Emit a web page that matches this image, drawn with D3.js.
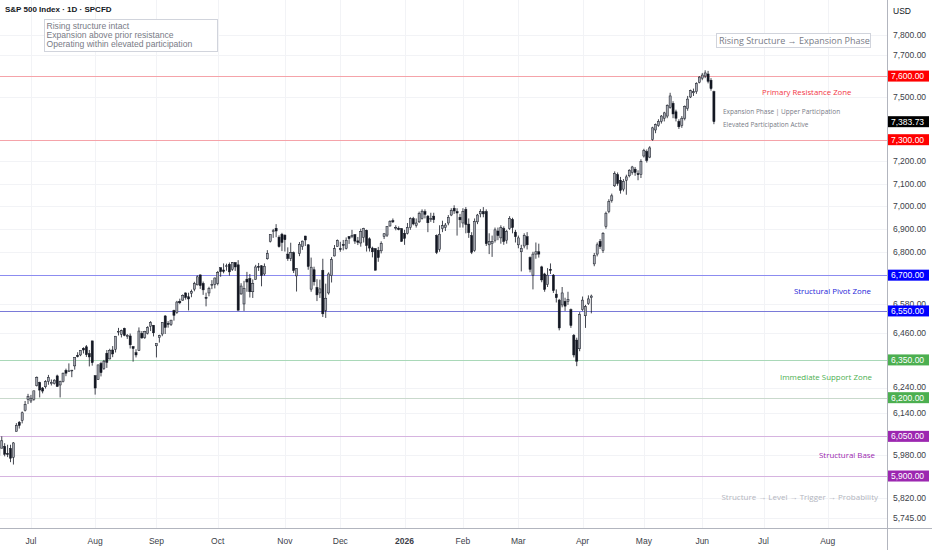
<!DOCTYPE html>
<html>
<head>
<meta charset="utf-8">
<script src="https://cdn.jsdelivr.net/npm/d3@7"></script>
<style>
  html, body { margin: 0; padding: 0; background: #fff; }
  svg { display: block; font-family: "Liberation Sans", Arial, sans-serif; }
</style>
</head>
<body>
<div id="chart"></div>
<script>
const width = 932, height = 550;
const plotRight = 887, plotBottom = 528;

// exchange holidays between the first bar and the end of the time axis
const holidays = ["2025-06-19", "2025-07-04", "2025-09-01", "2025-11-27", "2025-12-25",
  "2026-01-01", "2026-01-19", "2026-02-16", "2026-04-03", "2026-05-25", "2026-06-19", "2026-07-03"];

// date, open, high, low, close
const candles = [
  ["2025-06-13",6000,6026,5963,5977],["2025-06-16",6005,6050,6004,6033],["2025-06-17",6012,6024,5974,5982],
  ["2025-06-18",5985,6018,5971,5981],["2025-06-20",6004,6018,5952,5967],["2025-06-23",5970,6028,5943,6025],
  ["2025-06-24",6069,6101,6069,6092],["2025-06-25",6104,6109,6080,6092],["2025-06-26",6112,6146,6100,6141],
  ["2025-06-27",6151,6187,6146,6173],["2025-06-30",6193,6215,6175,6205],
  ["2025-07-01",6187,6211,6179,6198],["2025-07-02",6194,6227,6188,6227],["2025-07-03",6247,6284,6244,6279],
  ["2025-07-07",6260,6263,6201,6230],["2025-07-08",6238,6242,6217,6226],["2025-07-09",6243,6269,6236,6263],
  ["2025-07-10",6264,6290,6251,6280],["2025-07-11",6255,6272,6248,6260],["2025-07-14",6255,6273,6252,6269],
  ["2025-07-15",6286,6291,6243,6244],["2025-07-16",6250,6267,6201,6264],["2025-07-17",6264,6299,6260,6297],
  ["2025-07-18",6308,6315,6285,6297],["2025-07-21",6305,6336,6303,6306],["2025-07-22",6306,6310,6281,6309],
  ["2025-07-23",6326,6360,6311,6359],["2025-07-24",6368,6381,6360,6363],["2025-07-25",6370,6390,6365,6389],
  ["2025-07-28",6397,6401,6376,6390],["2025-07-29",6403,6410,6362,6371],["2025-07-30",6375,6390,6324,6362],
  ["2025-07-31",6427,6427,6327,6339],
  ["2025-08-01",6287,6288,6212,6238],["2025-08-04",6272,6331,6270,6330],["2025-08-05",6336,6343,6284,6299],
  ["2025-08-06",6315,6350,6310,6345],["2025-08-07",6377,6390,6318,6340],["2025-08-08",6354,6395,6352,6389],
  ["2025-08-11",6390,6406,6361,6374],["2025-08-12",6393,6447,6380,6446],["2025-08-13",6465,6480,6449,6466],
  ["2025-08-14",6454,6473,6441,6469],["2025-08-15",6478,6481,6446,6450],["2025-08-18",6445,6455,6435,6449],
  ["2025-08-19",6447,6457,6396,6411],["2025-08-20",6404,6404,6343,6396],["2025-08-21",6379,6393,6360,6370],
  ["2025-08-22",6388,6482,6386,6467],["2025-08-25",6458,6467,6436,6439],["2025-08-26",6440,6468,6435,6466],
  ["2025-08-27",6458,6487,6453,6481],["2025-08-28",6487,6508,6467,6502],["2025-08-29",6491,6491,6445,6460],
  ["2025-09-02",6407,6416,6360,6416],["2025-09-03",6440,6452,6420,6448],["2025-09-04",6455,6503,6446,6502],
  ["2025-09-05",6529,6533,6455,6482],["2025-09-08",6498,6508,6481,6495],["2025-09-09",6494,6513,6488,6512],
  ["2025-09-10",6552,6555,6510,6532],["2025-09-11",6543,6592,6538,6587],["2025-09-12",6590,6601,6578,6584],
  ["2025-09-15",6595,6619,6592,6615],["2025-09-16",6625,6627,6597,6606],["2025-09-17",6609,6626,6552,6600],
  ["2025-09-18",6624,6639,6607,6631],["2025-09-19",6641,6672,6632,6664],["2025-09-22",6659,6699,6657,6693],
  ["2025-09-23",6701,6703,6642,6656],["2025-09-24",6665,6673,6617,6638],["2025-09-25",6606,6626,6569,6605],
  ["2025-09-26",6625,6651,6611,6644],["2025-09-29",6661,6679,6641,6661],["2025-09-30",6660,6690,6644,6688],
  ["2025-10-01",6665,6718,6657,6711],["2025-10-02",6732,6732,6693,6715],["2025-10-03",6722,6750,6708,6716],
  ["2025-10-06",6737,6749,6719,6740],["2025-10-07",6746,6754,6698,6714],["2025-10-08",6725,6756,6718,6753],
  ["2025-10-09",6753,6755,6718,6735],["2025-10-10",6744,6764,6552,6553],["2025-10-13",6621,6666,6617,6654],
  ["2025-10-14",6579,6676,6550,6644],["2025-10-15",6683,6714,6630,6671],["2025-10-16",6686,6705,6606,6630],
  ["2025-10-17",6630,6682,6604,6664],["2025-10-20",6682,6744,6681,6735],["2025-10-21",6737,6752,6718,6736],
  ["2025-10-22",6740,6742,6653,6699],["2025-10-23",6705,6750,6698,6738],["2025-10-24",6770,6807,6766,6792],
  ["2025-10-27",6845,6875,6840,6875],["2025-10-28",6891,6899,6860,6891],["2025-10-29",6902,6920,6863,6890],
  ["2025-10-30",6863,6871,6818,6822],["2025-10-31",6876,6882,6803,6840],
  ["2025-11-03",6872,6875,6801,6852],["2025-11-04",6790,6819,6761,6771],["2025-11-05",6772,6839,6760,6796],
  ["2025-11-06",6796,6801,6709,6720],["2025-11-07",6697,6729,6631,6728],["2025-11-10",6792,6842,6781,6832],
  ["2025-11-11",6822,6848,6808,6846],["2025-11-12",6868,6869,6825,6851],["2025-11-13",6830,6833,6723,6737],
  ["2025-11-14",6641,6775,6630,6734],["2025-11-17",6723,6736,6656,6672],["2025-11-18",6648,6683,6591,6617],
  ["2025-11-19",6625,6681,6604,6642],["2025-11-20",6721,6770,6525,6538],["2025-11-21",6552,6664,6521,6603],
  ["2025-11-24",6625,6712,6618,6705],["2025-11-25",6698,6777,6669,6766],["2025-11-26",6782,6829,6780,6813],
  ["2025-11-28",6822,6853,6821,6849],
  ["2025-12-01",6813,6843,6800,6812],["2025-12-02",6831,6851,6806,6829],["2025-12-03",6815,6862,6810,6850],
  ["2025-12-04",6866,6866,6834,6857],["2025-12-05",6867,6895,6859,6870],["2025-12-08",6874,6876,6834,6846],
  ["2025-12-09",6847,6864,6829,6841],["2025-12-10",6838,6900,6822,6887],["2025-12-11",6862,6904,6840,6901],
  ["2025-12-12",6893,6896,6801,6827],["2025-12-15",6856,6862,6801,6816],["2025-12-16",6816,6822,6776,6800],
  ["2025-12-17",6813,6815,6721,6721],["2025-12-18",6806,6821,6757,6775],["2025-12-19",6804,6845,6793,6835],
  ["2025-12-22",6865,6880,6855,6878],["2025-12-23",6872,6910,6864,6910],["2025-12-24",6912,6937,6909,6932],
  ["2025-12-26",6935,6945,6925,6930],["2025-12-29",6905,6915,6893,6906],["2025-12-30",6902,6910,6893,6896],
  ["2025-12-31",6900,6902,6843,6845],
  ["2026-01-02",6880,6895,6830,6858],["2026-01-05",6880,6925,6875,6905],["2026-01-06",6905,6950,6895,6944],
  ["2026-01-07",6944,6952,6915,6921],["2026-01-08",6915,6945,6905,6925],["2026-01-09",6930,6975,6925,6966],
  ["2026-01-12",6945,6985,6940,6977],["2026-01-13",6975,6985,6945,6963],["2026-01-14",6955,6960,6885,6926],
  ["2026-01-15",6940,6970,6930,6944],["2026-01-16",6955,6970,6925,6940],["2026-01-20",6870,6875,6790,6797],
  ["2026-01-21",6810,6915,6800,6876],["2026-01-22",6900,6935,6885,6913],["2026-01-23",6905,6925,6890,6916],
  ["2026-01-26",6925,6960,6915,6950],["2026-01-27",6960,6990,6955,6979],["2026-01-28",6990,7003,6965,6978],
  ["2026-01-29",6975,6990,6870,6969],["2026-01-30",6950,6965,6905,6939],
  ["2026-02-02",6925,6990,6905,6976],["2026-02-03",6985,6995,6880,6918],["2026-02-04",6920,6945,6860,6883],
  ["2026-02-05",6870,6885,6790,6798],["2026-02-06",6805,6945,6800,6932],["2026-02-09",6930,6965,6920,6960],
  ["2026-02-10",6965,6986,6950,6975],["2026-02-11",6975,6995,6950,6965],["2026-02-12",6975,6985,6825,6835],
  ["2026-02-13",6830,6880,6790,6845],["2026-02-17",6835,6870,6778,6845],["2026-02-18",6850,6905,6840,6895],
  ["2026-02-19",6890,6905,6850,6870],["2026-02-20",6860,6915,6835,6905],["2026-02-23",6900,6910,6830,6845],
  ["2026-02-24",6850,6895,6835,6888],["2026-02-25",6900,6955,6895,6945],["2026-02-26",6940,6948,6880,6905],
  ["2026-02-27",6885,6895,6840,6865],
  ["2026-03-02",6830,6870,6815,6860],["2026-03-03",6800,6830,6716,6815],["2026-03-04",6825,6880,6815,6870],
  ["2026-03-05",6865,6885,6810,6830],["2026-03-06",6775,6780,6712,6725],["2026-03-09",6700,6800,6640,6790],
  ["2026-03-10",6790,6840,6770,6800],["2026-03-11",6800,6835,6775,6790],["2026-03-12",6735,6740,6670,6680],
  ["2026-03-13",6705,6710,6630,6640],["2026-03-16",6660,6730,6650,6700],["2026-03-17",6725,6750,6705,6720],
  ["2026-03-18",6700,6705,6625,6635],["2026-03-19",6620,6640,6585,6605],["2026-03-20",6595,6600,6470,6480],
  ["2026-03-23",6575,6650,6565,6625],["2026-03-24",6590,6605,6550,6570],["2026-03-25",6590,6630,6575,6598],
  ["2026-03-26",6555,6560,6480,6490],["2026-03-27",6450,6455,6360,6370],["2026-03-30",6430,6440,6325,6345],
  ["2026-03-31",6395,6545,6385,6535],
  ["2026-04-01",6555,6610,6550,6595],["2026-04-02",6530,6575,6480,6568],["2026-04-06",6580,6615,6575,6600],
  ["2026-04-07",6605,6618,6540,6612],["2026-04-08",6748,6795,6738,6785],["2026-04-09",6790,6840,6780,6830],
  ["2026-04-10",6845,6855,6812,6822],["2026-04-13",6805,6885,6795,6880],["2026-04-14",6910,6975,6900,6968],
  ["2026-04-15",6975,7030,6968,7020],["2026-04-16",7025,7055,7015,7045],["2026-04-17",7090,7155,7085,7145],
  ["2026-04-20",7140,7150,7090,7100],["2026-04-21",7115,7130,7055,7070],["2026-04-22",7075,7120,7065,7110],
  ["2026-04-23",7115,7140,7050,7130],["2026-04-24",7135,7165,7128,7160],["2026-04-27",7150,7180,7140,7175],
  ["2026-04-28",7165,7175,7135,7150],["2026-04-29",7145,7160,7115,7140],["2026-04-30",7140,7210,7125,7200],
  ["2026-05-01",7225,7258,7218,7250],["2026-05-04",7245,7255,7195,7205],["2026-05-05",7220,7270,7215,7262],
  ["2026-05-06",7300,7360,7295,7355],["2026-05-07",7345,7375,7330,7370],["2026-05-08",7365,7395,7360,7385],
  ["2026-05-11",7385,7415,7375,7410],["2026-05-12",7400,7430,7385,7425],["2026-05-13",7410,7465,7400,7460],
  ["2026-05-14",7450,7520,7445,7505],["2026-05-15",7470,7480,7400,7420],["2026-05-18",7430,7440,7385,7400],
  ["2026-05-19",7385,7395,7350,7360],["2026-05-20",7365,7410,7355,7400],["2026-05-21",7400,7460,7390,7455],
  ["2026-05-22",7445,7505,7435,7490],["2026-05-26",7500,7535,7495,7530],["2026-05-27",7520,7540,7505,7525],
  ["2026-05-28",7525,7570,7515,7565],["2026-05-29",7570,7600,7565,7595],
  ["2026-06-01",7590,7615,7580,7605],["2026-06-02",7600,7628,7590,7615],["2026-06-03",7610,7625,7565,7575],
  ["2026-06-04",7580,7590,7530,7540],["2026-06-05",7525,7530,7372,7383.73]
];

const levels = [7600, 7300, 6700, 6550, 6350, 6200, 6050, 5900];
const levelBadgeColors = ["#ff0000", "#ff0000", "#0000ff", "#0000ff", "#4caf50", "#4caf50", "#9c27b0", "#9c27b0"];
const levelLineColors = ["#f5a3a9", "#f5a3a9", "#8c8cf0", "#7a7ad8", "#a9d8b8", "#c9d9cc", "#d6b4e0", "#d6b4e0"];
const lastPrice = 7383.73;
// scale labels that stay visible beside the level badges
const priceTicks = [7800, 7700, 7500, 7200, 7100, 7000, 6900, 6800,
  6580, 6460, 6240, 6140, 5980, 5820, 5745];
const notes = ["Rising structure intact", "Expansion above prior resistance", "Operating within elevated participation"];
const monthNames = ["Jan", "Feb", "Mar", "Apr", "May", "Jun", "Jul", "Aug", "Sep", "Oct", "Nov", "Dec"];

// trading calendar from the first bar to the end of the axis
const parse = d3.utcParse("%Y-%m-%d"), fmtDay = d3.utcFormat("%Y-%m-%d");
const holidaySet = new Set(holidays);
const sessions = d3.utcDays(parse(candles[0][0]), parse("2026-09-01"))
  .filter(d => d.getUTCDay() > 0 && d.getUTCDay() < 6 && !holidaySet.has(fmtDay(d)));
const sessionIndex = new Map(sessions.map((d, i) => [fmtDay(d), i]));

const bars = candles.map(([date, o, h, l, c]) => ({ i: sessionIndex.get(date), o, h, l, c }));

const x = d3.scaleLinear().domain([0.4, 304.3]).range([0, plotRight]);
const y = d3.scaleLog().domain([5709, 7975]).range([plotBottom, 0]);

const monthTicks = sessions
  .map((d, i) => ({ d, i }))
  .filter(({ d, i }) => i > 0 && d.getUTCMonth() !== sessions[i - 1].getUTCMonth());

const fmtPrice = d3.format(",.2f");

const svg = d3.select("#chart").append("svg")
  .attr("width", width).attr("height", height)
  .attr("viewBox", [0, 0, width, height]);

svg.append("defs").append("clipPath").attr("id", "plot")
  .append("rect").attr("width", plotRight).attr("height", plotBottom);

// grid
const grid = svg.append("g").attr("clip-path", "url(#plot)");
grid.selectAll("line.h").data(priceTicks.concat(levels)).join("line")
  .attr("x1", 0).attr("x2", plotRight)
  .attr("y1", d => Math.round(y(d)) + 0.5).attr("y2", d => Math.round(y(d)) + 0.5)
  .attr("stroke", "#f2f3f6");
grid.selectAll("line.v").data(monthTicks).join("line")
  .attr("x1", d => Math.round(x(d.i)) + 0.5).attr("x2", d => Math.round(x(d.i)) + 0.5)
  .attr("y1", 0).attr("y2", plotBottom)
  .attr("stroke", "#f2f3f6");

// level lines
svg.append("g").selectAll("line").data(levels).join("line")
  .attr("x1", 0).attr("x2", plotRight)
  .attr("y1", d => Math.round(y(d)) + 0.5).attr("y2", d => Math.round(y(d)) + 0.5)
  .attr("stroke", (d, i) => levelLineColors[i]);

// candles
const bw = 2.1;
const cg = svg.append("g").attr("clip-path", "url(#plot)");
const bar = cg.selectAll("g").data(bars).join("g");
bar.append("line")
  .attr("x1", d => x(d.i)).attr("x2", d => x(d.i))
  .attr("y1", d => y(d.h)).attr("y2", d => y(d.l))
  .attr("stroke", "#131722").attr("stroke-width", 0.8);
bar.append("rect")
  .attr("x", d => x(d.i) - bw / 2).attr("width", bw)
  .attr("y", d => y(Math.max(d.o, d.c)))
  .attr("height", d => Math.max(0.8, Math.abs(y(d.o) - y(d.c))))
  .attr("fill", d => d.c >= d.o ? "#a3a6ae" : "#131722")
  .attr("stroke", "#131722").attr("stroke-width", 0.5);

// axes frame
svg.append("line").attr("x1", plotRight + 0.5).attr("x2", plotRight + 0.5)
  .attr("y1", 0).attr("y2", height).attr("stroke", "#b2b5be");
svg.append("line").attr("x1", 0).attr("x2", width)
  .attr("y1", plotBottom + 0.5).attr("y2", plotBottom + 0.5).attr("stroke", "#b2b5be");

// price axis labels
svg.append("g").selectAll("text").data(priceTicks).join("text")
  .attr("x", 893).attr("y", d => y(d)).attr("dy", "0.35em")
  .attr("font-size", 8.5).attr("fill", "#3b3e48")
  .text(d => fmtPrice(d));

svg.append("text").attr("x", 893).attr("y", 14)
  .attr("font-size", 8.5).attr("fill", "#131722").text("USD");

// time axis labels
svg.append("g").selectAll("text").data(monthTicks).join("text")
  .attr("x", d => x(d.i)).attr("y", 544)
  .attr("text-anchor", "middle").attr("font-size", 8.5).attr("fill", "#3b3e48")
  .attr("font-weight", d => d.d.getUTCMonth() === 0 ? 600 : 400)
  .text(d => d.d.getUTCMonth() === 0 ? d.d.getUTCFullYear() : monthNames[d.d.getUTCMonth()]);

// level badges
const badges = svg.append("g");
function badge(price, color) {
  const cy = y(price);
  badges.append("rect").attr("x", 888).attr("y", cy - 5.5)
    .attr("width", 41).attr("height", 11).attr("fill", color);
  badges.append("text").attr("x", 891).attr("y", cy).attr("dy", "0.35em")
    .attr("font-size", 8.5).attr("fill", "#fff").text(fmtPrice(price));
}
levels.forEach((p, i) => badge(p, levelBadgeColors[i]));
badge(lastPrice, "#000000");

// header and notes
svg.append("text").attr("x", 5).attr("y", 12)
  .attr("font-size", 8).attr("font-weight", 600).attr("fill", "#131722")
  .text("S&P 500 Index · 1D · SPCFD");

svg.append("rect").attr("x", 44.5).attr("y", 19.5).attr("width", 173).attr("height", 32)
  .attr("fill", "#fff").attr("stroke", "#d1d4dc");
svg.append("g").selectAll("text").data(notes).join("text")
  .attr("x", 46.5).attr("y", (d, i) => 28.8 + i * 9.2)
  .attr("font-size", 8.6).attr("fill", "#787b86")
  .text(d => d);

svg.append("rect").attr("x", 716.5).attr("y", 33.5).attr("width", 154).attr("height", 14)
  .attr("fill", "#fff").attr("stroke", "#d1d4dc");
svg.append("text").attr("x", 719).attr("y", 44)
  .attr("font-family", "'Open Sans', sans-serif")
  .attr("font-size", 9).attr("fill", "#787b86")
  .text("Rising Structure → Expansion Phase");

// zone annotations
const ann = svg.append("g").attr("font-family", "'Open Sans', sans-serif");
ann.append("text").attr("x", 762).attr("y", 95).attr("font-size", 7.8).attr("fill", "#f23645")
  .text("Primary Resistance Zone");
ann.append("text").attr("x", 723).attr("y", 114).attr("font-size", 6.5).attr("fill", "#787b86")
  .text("Expansion Phase | Upper Participation");
ann.append("text").attr("x", 723).attr("y", 126.5).attr("font-size", 6.5).attr("fill", "#787b86")
  .text("Elevated Participation Active");
ann.append("text").attr("x", 871).attr("y", 294).attr("text-anchor", "end")
  .attr("font-size", 7.9).attr("fill", "#2525d8").text("Structural Pivot Zone");
ann.append("text").attr("x", 872).attr("y", 380).attr("text-anchor", "end")
  .attr("font-size", 7.9).attr("fill", "#4caf50").text("Immediate Support Zone");
ann.append("text").attr("x", 875).attr("y", 458).attr("text-anchor", "end")
  .attr("font-size", 7.9).attr("fill", "#9c27b0").text("Structural Base");
ann.append("text").attr("x", 878).attr("y", 500).attr("text-anchor", "end")
  .attr("font-size", 8).attr("fill", "#b2b5be").text("Structure → Level → Trigger → Probability");
</script>
</body>
</html>
